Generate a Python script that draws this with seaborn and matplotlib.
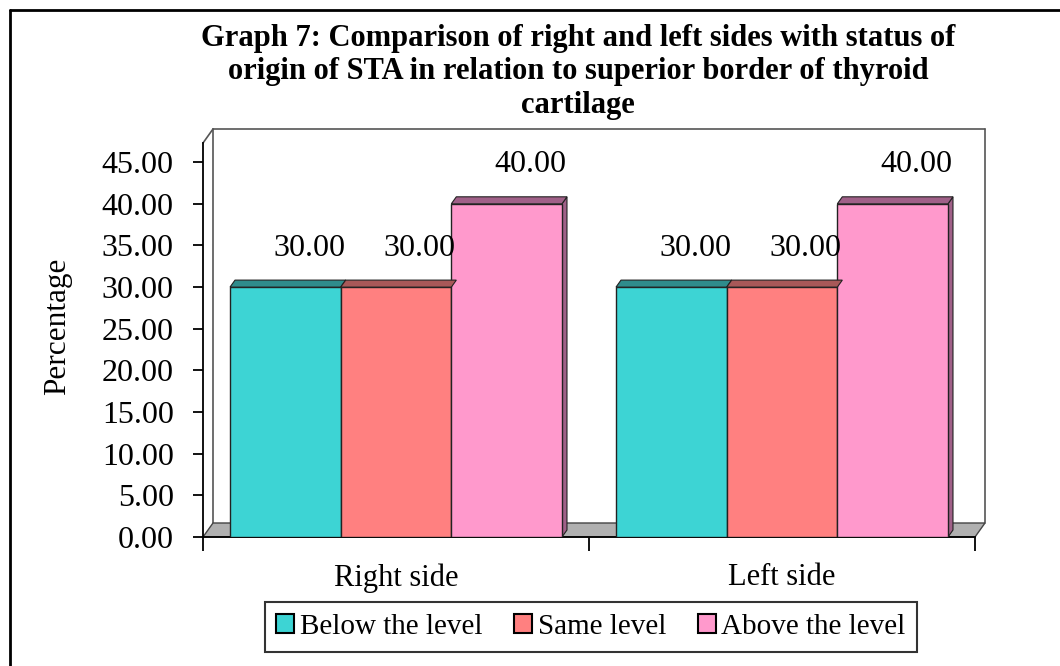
import matplotlib
matplotlib.use("Agg")
import matplotlib.pyplot as plt
from matplotlib.patches import Polygon
from matplotlib.lines import Line2D
import seaborn as sns
import pandas as pd

# Chart data
sides = ["Right side", "Left side"]
levels = ["Below the level", "Same level", "Above the level"]
right_side = [30.00, 30.00, 40.00]
left_side = [30.00, 30.00, 40.00]
y_ticks = [0, 5, 10, 15, 20, 25, 30, 35, 40, 45]

face_colors = ["#3DD4D4", "#FF8080", "#FF99CC"]
depth_colors = ["#2F8C8C", "#A85858", "#A06088"]

rows = []
for side, vals in zip(sides, [right_side, left_side]):
    for lvl, v in zip(levels, vals):
        rows.append({"Side": side, "Level": lvl, "Percentage": v})
df = pd.DataFrame(rows)

sns.set_theme(style="white")
plt.rcParams["font.family"] = ["Liberation Serif", "DejaVu Serif"]
plt.rcParams.update({"text.color": "black", "axes.labelcolor": "black",
                     "xtick.color": "black", "ytick.color": "black"})

W, H, DPI = 1060, 666, 100
fig = plt.figure(figsize=(W / DPI, H / DPI), dpi=DPI)
ax_l, ax_r, ax_b, ax_t = 203, 975, 537, 143
ax = fig.add_axes([ax_l / W, 1 - ax_b / H, (ax_r - ax_l) / W, (ax_b - ax_t) / H])

sns.barplot(data=df, x="Side", y="Percentage", hue="Level", order=sides,
            hue_order=levels, palette=face_colors, width=0.86, dodge=True,
            edgecolor="#222222", linewidth=1.0, saturation=1, errorbar=None,
            legend=True, ax=ax, zorder=3)

ymax = 47.3
ax.set_xlim(-0.5, 1.5)
ax.set_ylim(0, ymax)

# pixel -> data conversion for the 3D depth effect
px_x = 2.0 / (ax_r - ax_l)
px_y = ymax / (ax_b - ax_t)
dx, dy = 10 * px_x, 14 * px_y

# back wall and floor
wall_kw = dict(color="#555555", lw=1.2, zorder=1, clip_on=False)
ax.add_line(Line2D([-0.5 + dx, -0.5 + dx], [dy, ymax + dy], **wall_kw))
ax.add_line(Line2D([-0.5 + dx, 1.5 + dx], [ymax + dy, ymax + dy], **wall_kw))
ax.add_line(Line2D([1.5 + dx, 1.5 + dx], [dy, ymax + dy], **wall_kw))
ax.add_line(Line2D([-0.5, -0.5 + dx], [ymax, ymax + dy], **wall_kw))
floor = Polygon([(-0.5, 0), (-0.5 + dx, dy), (1.5 + dx, dy), (1.5, 0)],
                closed=True, facecolor="#B0B0B0", edgecolor="#444444",
                lw=1.0, zorder=2, clip_on=False)
ax.add_patch(floor)

# depth faces on each bar, plus value labels
for container, dcol in zip(ax.containers, depth_colors):
    for bar in container:
        x0, w, h = bar.get_x(), bar.get_width(), bar.get_height()
        ox, oy = dx * 0.5, dy * 0.5
        top = Polygon([(x0, h), (x0 + ox, h + oy), (x0 + w + ox, h + oy), (x0 + w, h)],
                      closed=True, facecolor=dcol, edgecolor="#222222", lw=0.8, zorder=3)
        side = Polygon([(x0 + w, 0), (x0 + w + ox, oy), (x0 + w + ox, h + oy), (x0 + w, h)],
                       closed=True, facecolor=dcol, edgecolor="#222222", lw=0.8, zorder=2.5)
        ax.add_patch(top)
        ax.add_patch(side)
        ax.annotate(f"{h:.2f}", xy=(x0 + w / 2, h), xytext=(17, 28),
                    textcoords="offset points", ha="center", va="center",
                    fontsize=23, zorder=5)

# axes styling
for s in ["top", "right"]:
    ax.spines[s].set_visible(False)
ax.spines["left"].set_color("black")
ax.spines["bottom"].set_color("black")
ax.spines["left"].set_linewidth(1.3)
ax.spines["bottom"].set_linewidth(1.3)
ax.set_yticks(y_ticks)
ax.set_yticklabels([f"{v:.2f}" for v in y_ticks], fontsize=23)
ax.tick_params(axis="y", direction="out", length=7, width=1.3, pad=14, left=True)
ax.set_xticks([-0.5, 0.5, 1.5])
ax.set_xticklabels([])
ax.set_xticks([0, 1], minor=True)
ax.set_xticklabels(sides, minor=True, fontsize=22)
ax.tick_params(axis="x", which="major", direction="out", length=10, width=1.3, bottom=True)
ax.tick_params(axis="x", which="minor", length=0, pad=19)
ax.set_xlabel("")
ax.set_ylabel("Percentage", fontsize=22.5)
ax.yaxis.set_label_coords((72 - ax_l) / (ax_r - ax_l), (ax_b - 326) / (ax_b - ax_t))
ax.grid(False)

# legend
handles, labels = ax.get_legend_handles_labels()
ax.legend_.remove()
leg = fig.legend(handles, labels, loc="center", bbox_to_anchor=(591 / W, 1 - 627 / H),
                 ncol=3, fontsize=21, frameon=True, fancybox=False, edgecolor="black",
                 handlelength=0.6, handleheight=0.6, handletextpad=0.2,
                 columnspacing=1.1, borderpad=0.4)
leg.get_frame().set_linewidth(1.5)
for hdl in leg.legend_handles:
    hdl.set_edgecolor("black")
    hdl.set_linewidth(1.5)

# title
fig.text(578 / W, 1 - 72 / H,
         "Graph 7: Comparison of right and left sides with status of\n"
         "origin of STA in relation to superior border of thyroid\ncartilage",
         ha="center", va="center", fontsize=22, fontweight="bold",
         linespacing=1.2)

# page border on top and left
fig.add_artist(Line2D([10 / W, 10 / W], [0, 1 - 10 / H], transform=fig.transFigure, color="black", lw=2))
fig.add_artist(Line2D([10 / W, 1], [1 - 10 / H, 1 - 10 / H], transform=fig.transFigure, color="black", lw=2))

fig.savefig("out.png", dpi=DPI, facecolor="white")
